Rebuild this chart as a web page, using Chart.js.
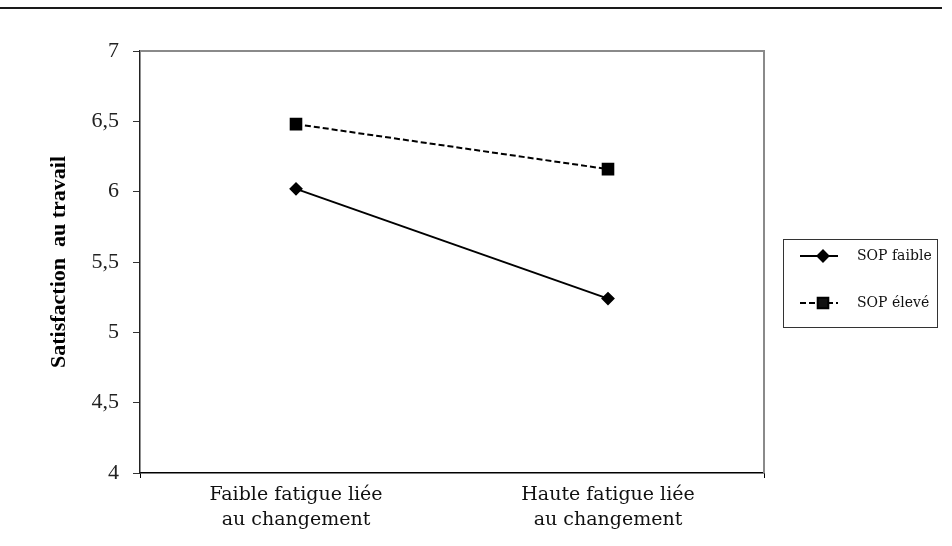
<!DOCTYPE html>
<html>
<head>
<meta charset="utf-8">
<script src="https://cdn.jsdelivr.net/npm/chart.js@4"></script>
<style>
  html, body { margin: 0; padding: 0; background: #fff; }
  #wrap { width: 952px; height: 546px; position: relative; }
</style>
</head>
<body>
<div id="wrap"><canvas id="c" width="952" height="546"></canvas></div>
<script>
const categories = [["Faible fatigue liée", "au changement"], ["Haute fatigue liée", "au changement"]];
const seriesNames = ["SOP faible", "SOP élevé"];
const sopFaible = [6.02, 5.24];
const sopEleve = [6.48, 6.16];
const yTicks = [4, 4.5, 5, 5.5, 6, 6.5, 7];
const yTitle = "Satisfaction  au travail";

const decor = {
  id: 'decor',
  beforeDraw(chart) {
    const ctx = chart.ctx;
    ctx.save();
    ctx.strokeStyle = '#1a1a1a';
    ctx.lineWidth = 2;
    ctx.beginPath(); ctx.moveTo(0, 8); ctx.lineTo(942, 8); ctx.stroke();
    ctx.restore();
  },
  afterDatasetsDraw(chart) {
    const ctx = chart.ctx;
    const a = chart.chartArea;
    ctx.save();
    ctx.strokeStyle = '#8a8a8a';
    ctx.lineWidth = 2;
    ctx.beginPath();
    ctx.moveTo(a.left, a.top); ctx.lineTo(a.right, a.top); ctx.lineTo(a.right, a.bottom);
    ctx.stroke();
    // legend
    const lx = 783, ly = 239, lw = 154, lh = 88;
    ctx.strokeStyle = '#333';
    ctx.lineWidth = 1;
    ctx.strokeRect(lx + 0.5, ly + 0.5, lw, lh);
    const rows = [ly + 17, ly + 64];
    chart.data.datasets.forEach((ds, i) => {
      const y = rows[i];
      ctx.strokeStyle = ds.borderColor;
      ctx.lineWidth = ds.borderWidth;
      ctx.setLineDash(ds.borderDash || []);
      ctx.beginPath(); ctx.moveTo(800, y); ctx.lineTo(838, y); ctx.stroke();
      ctx.setLineDash([]);
      Chart.helpers.drawPoint(ctx, {pointStyle: ds.pointStyle, radius: ds.pointRadius, borderWidth: 1, rotation: 0}, 823, y);
      ctx.fillStyle = '#111';
      ctx.font = '14px "DejaVu Serif"';
      ctx.textBaseline = 'middle';
      ctx.fillText(ds.label, 857, y);
    });
    ctx.restore();
  }
};

new Chart(document.getElementById('c'), {
  type: 'line',
  data: {
    labels: categories,
    datasets: [
      { label: seriesNames[0], data: sopFaible, borderColor: '#000', backgroundColor: '#000',
        borderWidth: 2, pointStyle: 'rectRot', pointRadius: 5.5, pointBackgroundColor: '#000', pointBorderColor: '#000' },
      { label: seriesNames[1], data: sopEleve, borderColor: '#000', backgroundColor: '#000',
        borderWidth: 2, borderDash: [6, 3], pointStyle: 'rect', pointRadius: 7.5, pointBackgroundColor: '#000', pointBorderColor: '#000' }
    ]
  },
  options: {
    responsive: false,
    animation: false,
    layout: { padding: { left: 0, top: 51, right: 188, bottom: 0 } },
    plugins: { legend: { display: false }, tooltip: { enabled: false } },
    scales: {
      x: {
        offset: true,
        afterFit(s) { s.height = 73; },
        grid: { display: true, drawOnChartArea: false, offset: true, tickLength: 5,
                tickColor: (c) => c.index === 1 ? 'rgba(0,0,0,0)' : '#000', color: '#000' },
        border: { color: '#000', width: 1.5 },
        ticks: { color: '#111', font: { family: '"DejaVu Serif"', size: 19, lineHeight: 1.3 }, padding: 5, maxRotation: 0 }
      },
      y: {
        min: 4, max: 7,
        afterFit(s) { s.width = 140; },
        afterBuildTicks(s) { s.ticks = yTicks.map(v => ({ value: v })); },
        grid: { display: true, drawOnChartArea: false, tickLength: 7, tickColor: '#333' },
        border: { color: '#222', width: 1.5 },
        ticks: { color: '#222', font: { family: '"Liberation Serif", "Times New Roman", serif', size: 22 }, padding: 14,
                 callback: (v) => String(v).replace('.', ',') },
        title: { display: true, text: yTitle, color: '#000',
                 font: { family: '"Liberation Serif", serif', size: 22, weight: 'bold' }, padding: { top: 46, bottom: 0 } }
      }
    }
  },
  plugins: [decor]
});
</script>
</body>
</html>
